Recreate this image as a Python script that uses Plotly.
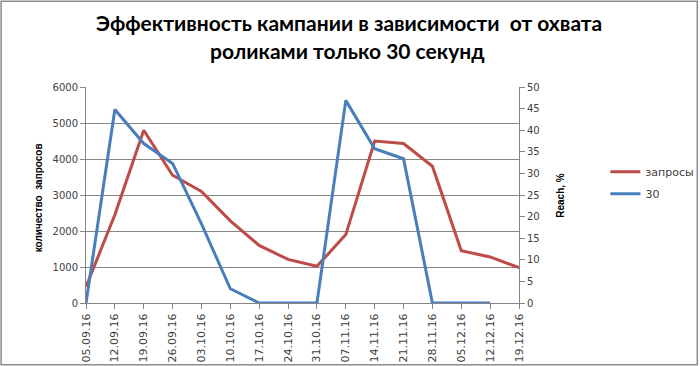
import plotly.graph_objects as go

dates = ["05.09.16", "12.09.16", "19.09.16", "26.09.16", "03.10.16", "10.10.16",
         "17.10.16", "24.10.16", "31.10.16", "07.11.16", "14.11.16", "21.11.16",
         "28.11.16", "05.12.16", "12.12.16", "19.12.16"]
zaprosy = [450, 2450, 4800, 3550, 3100, 2280, 1600, 1210, 1020, 1900, 4500, 4430,
           3800, 1450, 1280, 980]
reach30 = [0, 44.8, 36.9, 32.3, 18.3, 3.3, 0, 0, 0, 46.9, 35.7, 33.4, 0, 0, 0, None]

left_ticks = [0, 1000, 2000, 3000, 4000, 5000, 6000]
right_ticks = [0, 5, 10, 15, 20, 25, 30, 35, 40, 45, 50]

RED = "#BE4B48"
BLUE = "#4A7EBB"
GRID = "#868686"
TXT = "#404040"

fig = go.Figure()
fig.add_trace(go.Scatter(x=list(range(len(dates))), y=zaprosy, name="запросы",
                         legendgroup="a",
                         mode="lines", line=dict(color=RED, width=3), yaxis="y"))
fig.add_trace(go.Scatter(x=list(range(len(dates))), y=reach30, name="30",
                         legendgroup="b",
                         mode="lines", line=dict(color=BLUE, width=3), yaxis="y2"))

L, R, T, B = 86, 180.5, 86.7, 63.3
W, H = 700, 366
pw, ph = W - L - R, H - T - B

def px(x):
    return (x - L) / pw

def py(y):
    return (H - B - y) / ph

fig.update_layout(
    width=W, height=H, autosize=False,
    margin=dict(l=L, r=R, t=T, b=B, pad=0, autoexpand=False),
    paper_bgcolor="white", plot_bgcolor="white",
    font=dict(family="DejaVu Sans", size=10, color=TXT),
    showlegend=True,
    legend=dict(x=px(606), y=py(157), xanchor="left", yanchor="top",
                font=dict(family="DejaVu Sans", size=11, color=TXT),
                bgcolor="rgba(0,0,0,0)", tracegroupgap=3),
    xaxis=dict(tickmode="array", tickvals=list(range(len(dates))), ticktext=dates,
               range=[0, len(dates) - 1], tickangle=-90, automargin=False,
               showgrid=False, showline=True, linecolor=GRID, linewidth=1,
               ticks="outside", ticklen=5, tickcolor=GRID, zeroline=False,
               tickfont=dict(family="DejaVu Sans", size=11, color=TXT)),
    yaxis=dict(range=[0, 6000], tickvals=left_ticks, showgrid=True, gridcolor=GRID,
               gridwidth=1, showline=True, linecolor=GRID, ticks="outside", ticklen=5,
               tickcolor=GRID, zeroline=False, automargin=False,
               tickfont=dict(family="DejaVu Sans", size=10, color=TXT)),
    yaxis2=dict(range=[0, 50], tickvals=right_ticks, overlaying="y", side="right",
                showgrid=False, showline=True, linecolor=GRID, ticks="outside",
                ticklen=5, tickcolor=GRID, zeroline=False, automargin=False,
                tickfont=dict(family="DejaVu Sans", size=10, color=TXT)),
    annotations=[
        dict(text="<b>Эффективность кампании в зависимости  от охвата</b>",
             x=px(349), y=py(22), xref="paper", yref="paper", showarrow=False,
             xanchor="center", yanchor="middle",
             font=dict(family="Lato", size=21, color="black")),
        dict(text="<b>роликами только 30 секунд</b>",
             x=px(348), y=py(50), xref="paper", yref="paper", showarrow=False,
             xanchor="center", yanchor="middle",
             font=dict(family="Lato", size=21, color="black")),
        dict(text="<b>количество  запросов</b>", textangle=-90,
             x=px(38), y=py(198), xref="paper", yref="paper", showarrow=False,
             xanchor="center", yanchor="middle",
             font=dict(family="Liberation Sans", size=10, color="black")),
        dict(text="<b>Reach, %</b>", textangle=-90,
             x=px(561), y=py(195), xref="paper", yref="paper", showarrow=False,
             xanchor="center", yanchor="middle",
             font=dict(family="Liberation Sans", size=10, color="black")),
    ],
    shapes=[dict(type="rect", xref="paper", yref="paper",
                 x0=px(1), x1=px(698), y0=py(364.5), y1=py(1),
                 line=dict(color="#8C8C8C", width=1.5), fillcolor="rgba(0,0,0,0)",
                 layer="below")],
)

fig.write_html("out.html", config={"displayModeBar": False},
               post_script="document.body.style.margin='0';")
